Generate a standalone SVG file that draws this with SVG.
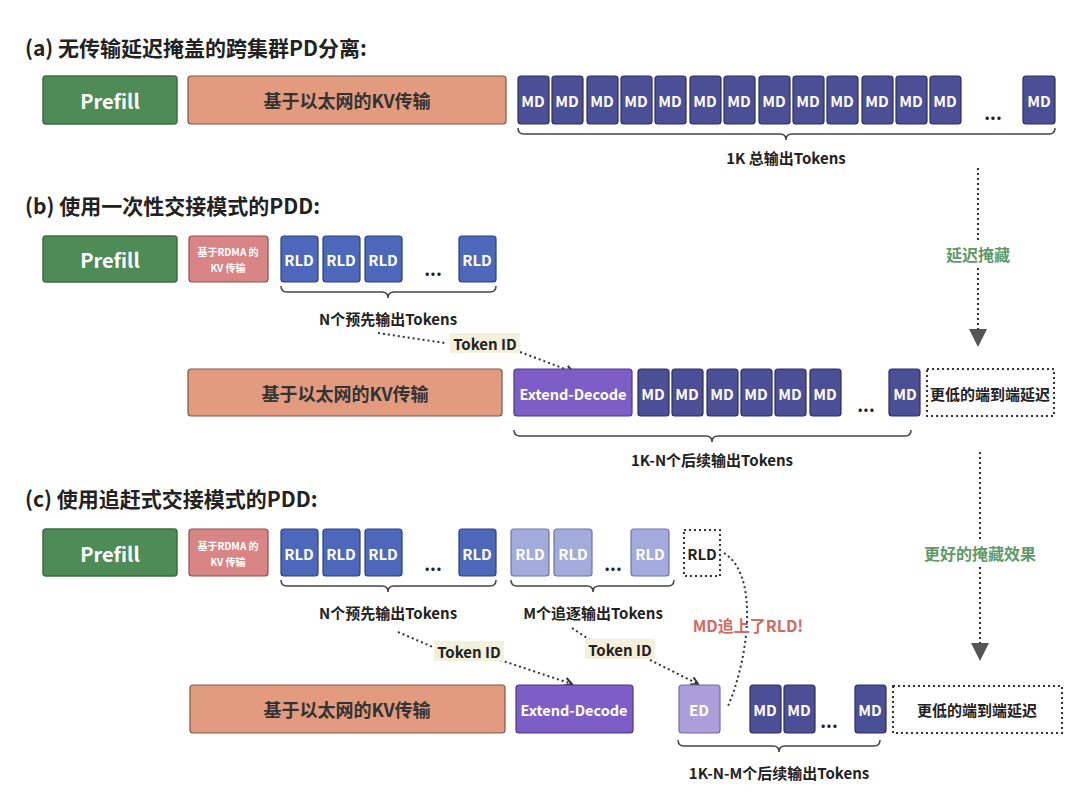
<svg xmlns="http://www.w3.org/2000/svg" width="1080" height="808" viewBox="0 0 1080 808">
<style>
text{font-family:"Noto Sans CJK SC","Noto Sans",sans-serif;font-weight:bold;text-anchor:middle;dominant-baseline:central}
.t{font-size:21px;fill:#222;text-anchor:start}
.w{fill:#fff}
.pf{fill:#4e8b57;stroke:#3c6e44;stroke-width:1.5}
.eth{fill:#e29b7f;stroke:#7a5a4c;stroke-width:1.2}
.rdma{fill:#d98585;stroke:#8a5050;stroke-width:1.2}
.rld{fill:#4d68bb;stroke:#2c3f7a;stroke-width:1.2}
.lrld{fill:#a2abdc;stroke:#6b76a8;stroke-width:1.2}
.md{fill:#4b4f96;stroke:#2b2e60;stroke-width:1.2}
.ext{fill:#7d5ec6;stroke:#4d3785;stroke-width:1.2}
.ed{fill:#ab9fda;stroke:#776aa8;stroke-width:1.2}
.dash{fill:#fff;stroke:#333;stroke-width:2;stroke-dasharray:2 3}
.br{fill:none;stroke:#444;stroke-width:1.5}
.dl{fill:none;stroke:#333;stroke-width:2;stroke-dasharray:2 3}
.s{font-size:15px;fill:#222}
.m{font-size:15px;fill:#fff}
.tid{fill:#f3f0dc}
</style>
<defs>
<marker id="a" markerWidth="10" markerHeight="10" refX="8" refY="5" orient="auto" markerUnits="userSpaceOnUse"><path d="M1,1 L8,5 L1,9" fill="none" stroke="#333" stroke-width="2"/></marker>
<marker id="tri" markerWidth="20" markerHeight="20" refX="10" refY="10" orient="auto" markerUnits="userSpaceOnUse"><path d="M1,1 L19,10 L1,19 Z" fill="#555"/></marker>
</defs>
<text class="t" x="25" y="47">(a) 无传输延迟掩盖的跨集群PD分离:</text>
<text class="t" x="25" y="205">(b) 使用一次性交接模式的PDD:</text>
<text class="t" x="25" y="498">(c) 使用追赶式交接模式的PDD:</text>

<g id="connectors">
<path class="br" d="M518,128 q0,6 6,6 h256 q6,0 6,6 q0,-6 6,-6 h257 q6,0 6,-6"/>
<path class="br" d="M281,286 q0,6 6,6 h95 q6,0 6,6 q0,-6 6,-6 h96 q6,0 6,-6"/>
<path class="br" d="M514,430 q0,6 6,6 h186 q6,0 6,6 q0,-6 6,-6 h187 q6,0 6,-6"/>
<path class="br" d="M281,580 q0,6 6,6 h95 q6,0 6,6 q0,-6 6,-6 h96 q6,0 6,-6"/>
<path class="br" d="M511,580 q0,6 6,6 h70 q6,0 6,6 q0,-6 6,-6 h69 q6,0 6,-6"/>
<path class="br" d="M678,740 q0,6 6,6 h89 q6,0 6,6 q0,-6 6,-6 h89 q6,0 6,-6"/>
<path class="dl" d="M378,333 L445,343"/>
<path class="dl" d="M520,352 L573,372" marker-end="url(#a)"/>
<path class="dl" d="M398,632 L435,648"/>
<path class="dl" d="M500,660 L572,684" marker-end="url(#a)"/>
<path class="dl" d="M572,628 L590,640"/>
<path class="dl" d="M650,660 L698,684" marker-end="url(#a)"/>
<path class="dl" d="M724,553 C760,575 748,660 728,706"/>
<path class="dl" d="M978,168 V338" marker-end="url(#tri)"/>
<path class="dl" d="M980,452 V652" marker-end="url(#tri)"/>
</g>
<rect x="938" y="240" width="80" height="28" fill="#fff"/>
<text x="978" y="254" style="font-size:16px;fill:#5d9a68">延迟掩藏</text>
<rect x="914" y="539" width="132" height="28" fill="#fff"/>
<text x="980" y="553" style="font-size:16px;fill:#5d9a68">更好的掩藏效果</text>
<text x="748" y="625" style="font-size:16px;fill:#d06a62">MD追上了RLD!</text>
<text class="s" x="786" y="157">1K 总输出Tokens</text>
<text class="s" x="388" y="318">N个预先输出Tokens</text>
<text class="s" x="712" y="459">1K-N个后续输出Tokens</text>
<text class="s" x="388" y="612">N个预先输出Tokens</text>
<text class="s" x="593" y="612">M个追逐输出Tokens</text>
<text class="s" x="779" y="772">1K-N-M个后续输出Tokens</text>
<g id="tid1"><rect class="tid" x="450" y="333" width="70" height="20"/><text class="s" x="485" y="343">Token ID</text></g>
<g id="tid2"><rect class="tid" x="434" y="641" width="70" height="20"/><text class="s" x="469" y="651">Token ID</text></g>
<g id="tid3"><rect class="tid" x="585" y="639" width="70" height="20"/><text class="s" x="620" y="649">Token ID</text></g>

<g id="a-prefill"><rect class="pf" x="43" y="76" width="134" height="48" rx="3"/><text class="w" x="110" y="100" style="font-size:20px">Prefill</text></g>
<g id="a-eth"><rect class="eth" x="188" y="76" width="318" height="48" rx="3"/><text x="347" y="100" style="font-size:18px;fill:#333">基于以太网的KV传输</text></g>
<g id="a-md">
<rect class="md" x="518" y="76" width="31" height="48" rx="3"/><text class="m" x="533" y="100">MD</text>
<rect class="md" x="552" y="76" width="31" height="48" rx="3"/><text class="m" x="567" y="100">MD</text>
<rect class="md" x="587" y="76" width="31" height="48" rx="3"/><text class="m" x="602" y="100">MD</text>
<rect class="md" x="621" y="76" width="31" height="48" rx="3"/><text class="m" x="636" y="100">MD</text>
<rect class="md" x="655" y="76" width="31" height="48" rx="3"/><text class="m" x="670" y="100">MD</text>
<rect class="md" x="690" y="76" width="31" height="48" rx="3"/><text class="m" x="705" y="100">MD</text>
<rect class="md" x="724" y="76" width="31" height="48" rx="3"/><text class="m" x="739" y="100">MD</text>
<rect class="md" x="759" y="76" width="31" height="48" rx="3"/><text class="m" x="774" y="100">MD</text>
<rect class="md" x="793" y="76" width="31" height="48" rx="3"/><text class="m" x="808" y="100">MD</text>
<rect class="md" x="827" y="76" width="31" height="48" rx="3"/><text class="m" x="842" y="100">MD</text>
<rect class="md" x="862" y="76" width="31" height="48" rx="3"/><text class="m" x="877" y="100">MD</text>
<rect class="md" x="896" y="76" width="31" height="48" rx="3"/><text class="m" x="911" y="100">MD</text>
<rect class="md" x="930" y="76" width="31" height="48" rx="3"/><text class="m" x="945" y="100">MD</text>
<text x="993" y="112" style="font-size:18px;fill:#222">...</text>
<rect class="md" x="1023" y="76" width="32" height="48" rx="3"/><text class="m" x="1039" y="100">MD</text>
</g>

<g id="b-prefill"><rect class="pf" x="43" y="236" width="134" height="46" rx="3"/><text class="w" x="110" y="259" style="font-size:20px">Prefill</text></g>
<g id="b-rdma"><rect class="rdma" x="189" y="236" width="79" height="46" rx="3"/><text class="w" x="228" y="251" style="font-size:10px">基于RDMA 的</text><text class="w" x="228" y="267" style="font-size:10px">KV 传输</text></g>
<g id="b-rld">
<rect class="rld" x="281" y="236" width="37" height="46" rx="3"/><text class="m" x="299" y="259">RLD</text>
<rect class="rld" x="323" y="236" width="37" height="46" rx="3"/><text class="m" x="341" y="259">RLD</text>
<rect class="rld" x="365" y="236" width="37" height="46" rx="3"/><text class="m" x="383" y="259">RLD</text>
<text x="433" y="268" style="font-size:18px;fill:#222">...</text>
<rect class="rld" x="459" y="236" width="37" height="46" rx="3"/><text class="m" x="477" y="259">RLD</text>
</g>
<g id="b-eth"><rect class="eth" x="188" y="369" width="314" height="47" rx="3"/><text x="345" y="393" style="font-size:18px;fill:#333">基于以太网的KV传输</text></g>
<g id="b-ext"><rect class="ext" x="514" y="369" width="118" height="47" rx="3"/><text class="w" x="573" y="393" style="font-size:14.5px">Extend-Decode</text></g>
<g id="b-md">
<rect class="md" x="638" y="369" width="31" height="47" rx="3"/><text class="m" x="653" y="393">MD</text>
<rect class="md" x="672" y="369" width="31" height="47" rx="3"/><text class="m" x="687" y="393">MD</text>
<rect class="md" x="707" y="369" width="31" height="47" rx="3"/><text class="m" x="722" y="393">MD</text>
<rect class="md" x="741" y="369" width="31" height="47" rx="3"/><text class="m" x="756" y="393">MD</text>
<rect class="md" x="775" y="369" width="31" height="47" rx="3"/><text class="m" x="790" y="393">MD</text>
<rect class="md" x="810" y="369" width="31" height="47" rx="3"/><text class="m" x="825" y="393">MD</text>
<text x="866" y="404" style="font-size:18px;fill:#222">...</text>
<rect class="md" x="889" y="369" width="31" height="47" rx="3"/><text class="m" x="905" y="393">MD</text>
</g>
<g id="b-lat"><rect class="dash" x="927" y="369" width="127" height="47"/><text class="s" x="990" y="393">更低的端到端延迟</text></g>

<g id="c-prefill"><rect class="pf" x="43" y="529" width="134" height="47" rx="3"/><text class="w" x="110" y="553" style="font-size:20px">Prefill</text></g>
<g id="c-rdma"><rect class="rdma" x="189" y="529" width="79" height="47" rx="3"/><text class="w" x="228" y="545" style="font-size:10px">基于RDMA 的</text><text class="w" x="228" y="561" style="font-size:10px">KV 传输</text></g>
<g id="c-rld">
<rect class="rld" x="281" y="529" width="37" height="47" rx="3"/><text class="m" x="299" y="553">RLD</text>
<rect class="rld" x="323" y="529" width="37" height="47" rx="3"/><text class="m" x="341" y="553">RLD</text>
<rect class="rld" x="365" y="529" width="37" height="47" rx="3"/><text class="m" x="383" y="553">RLD</text>
<text x="433" y="563" style="font-size:18px;fill:#222">...</text>
<rect class="rld" x="459" y="529" width="37" height="47" rx="3"/><text class="m" x="477" y="553">RLD</text>
</g>
<g id="c-lrld">
<rect class="lrld" x="511" y="529" width="38" height="47" rx="3"/><text class="m" x="530" y="553">RLD</text>
<rect class="lrld" x="554" y="529" width="38" height="47" rx="3"/><text class="m" x="573" y="553">RLD</text>
<text x="613" y="563" style="font-size:18px;fill:#222">...</text>
<rect class="lrld" x="631" y="529" width="38" height="47" rx="3"/><text class="m" x="650" y="553">RLD</text>
</g>
<g id="c-rldd"><rect class="dash" x="684" y="530" width="36" height="46"/><text class="s" x="702" y="553">RLD</text></g>
<g id="c-eth"><rect class="eth" x="190" y="685" width="315" height="48" rx="3"/><text x="347" y="709" style="font-size:18px;fill:#333">基于以太网的KV传输</text></g>
<g id="c-ext"><rect class="ext" x="516" y="685" width="117" height="48" rx="3"/><text class="w" x="574" y="709" style="font-size:14.5px">Extend-Decode</text></g>
<g id="c-ed"><rect class="ed" x="679" y="685" width="41" height="48" rx="3"/><text class="m" x="699" y="709">ED</text></g>
<g id="c-md">
<rect class="md" x="750" y="685" width="31" height="48" rx="3"/><text class="m" x="765" y="709">MD</text>
<rect class="md" x="784" y="685" width="31" height="48" rx="3"/><text class="m" x="799" y="709">MD</text>
<text x="829" y="720" style="font-size:18px;fill:#222">...</text>
<rect class="md" x="855" y="685" width="31" height="48" rx="3"/><text class="m" x="870" y="709">MD</text>
</g>
<g id="c-lat"><rect class="dash" x="893" y="686" width="169" height="47"/><text class="s" x="977" y="709">更低的端到端延迟</text></g>
</svg>
